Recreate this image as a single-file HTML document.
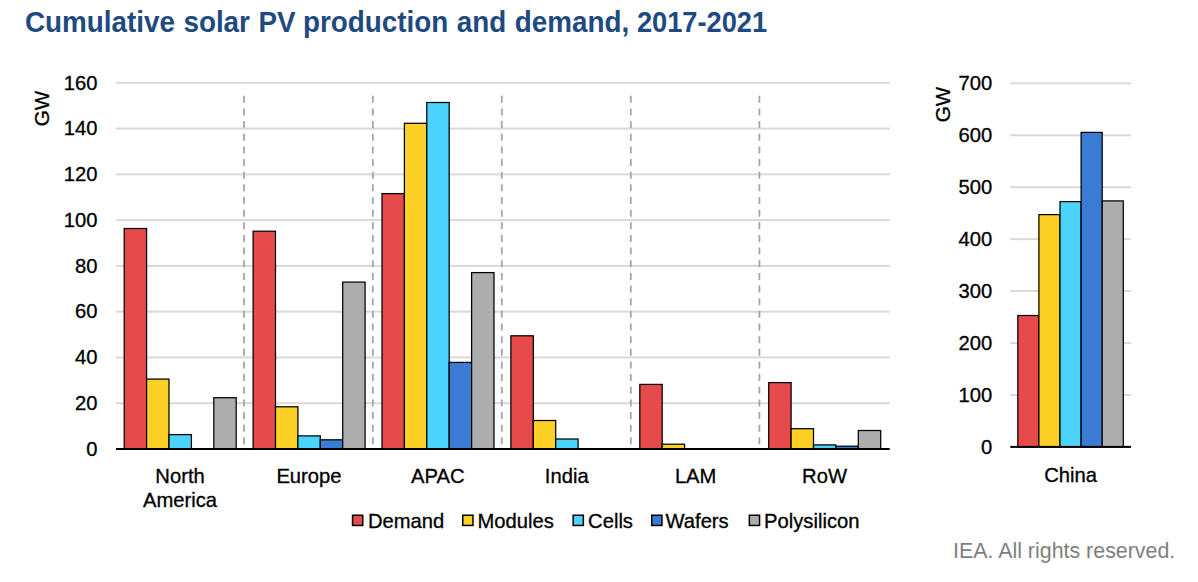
<!DOCTYPE html>
<html><head><meta charset="utf-8"><title>Cumulative solar PV production and demand, 2017-2021</title>
<style>
html,body{margin:0;padding:0;background:#fff;width:1198px;height:582px;overflow:hidden}
svg{display:block}
text{font-family:"Liberation Sans",Arial,sans-serif}
.t{font-size:29.4px;font-weight:bold;fill:#1F4A80}
.l{font-size:20.2px;fill:#000;stroke:#000;stroke-width:0.3px}
.c{font-size:21.4px;fill:#7F7F7F}
</style></head><body>
<svg width="1198" height="582" viewBox="0 0 1198 582">
<g class="t"><text transform="translate(25.0 31.6) scale(0.947 1)">Cumulative</text> <text transform="translate(183.4 31.6) scale(0.947 1)">solar</text> <text transform="translate(258.5 31.6) scale(0.947 1)">PV</text> <text transform="translate(303.0 31.6) scale(0.947 1)">production</text> <text transform="translate(456.7 31.6) scale(0.947 1)">and</text> <text transform="translate(514.8 31.6) scale(0.947 1)">demand,</text> <text transform="translate(636.9 31.6) scale(0.927 1)">2017-2021</text></g>
<rect x="116" y="402.23" width="773.7" height="2" fill="#D9D9D9"/>
<rect x="116" y="356.45" width="773.7" height="2" fill="#D9D9D9"/>
<rect x="116" y="310.68" width="773.7" height="2" fill="#D9D9D9"/>
<rect x="116" y="264.9" width="773.7" height="2" fill="#D9D9D9"/>
<rect x="116" y="219.13" width="773.7" height="2" fill="#D9D9D9"/>
<rect x="116" y="173.35" width="773.7" height="2" fill="#D9D9D9"/>
<rect x="116" y="127.58" width="773.7" height="2" fill="#D9D9D9"/>
<rect x="116" y="81.8" width="773.7" height="2" fill="#D9D9D9"/>
<text x="97.5" y="455.72" class="l" text-anchor="end">0</text>
<text x="97.5" y="409.94" class="l" text-anchor="end">20</text>
<text x="97.5" y="364.17" class="l" text-anchor="end">40</text>
<text x="97.5" y="318.39" class="l" text-anchor="end">60</text>
<text x="97.5" y="272.62" class="l" text-anchor="end">80</text>
<text x="97.5" y="226.84" class="l" text-anchor="end">100</text>
<text x="97.5" y="181.07" class="l" text-anchor="end">120</text>
<text x="97.5" y="135.29" class="l" text-anchor="end">140</text>
<text x="97.5" y="89.52" class="l" text-anchor="end">160</text>
<line x1="244" y1="95.8" x2="244" y2="444.5" stroke="#A6A6A6" stroke-width="1.8" stroke-dasharray="7 5.65"/>
<line x1="372.85" y1="95.8" x2="372.85" y2="444.5" stroke="#A6A6A6" stroke-width="1.8" stroke-dasharray="7 5.65"/>
<line x1="501.8" y1="95.8" x2="501.8" y2="444.5" stroke="#A6A6A6" stroke-width="1.8" stroke-dasharray="7 5.65"/>
<line x1="630.8" y1="95.8" x2="630.8" y2="444.5" stroke="#A6A6A6" stroke-width="1.8" stroke-dasharray="7 5.65"/>
<line x1="759.4" y1="95.8" x2="759.4" y2="444.5" stroke="#A6A6A6" stroke-width="1.8" stroke-dasharray="7 5.65"/>
<rect x="124.2" y="228.5" width="22.4" height="220.5" fill="#E64A4A" stroke="#000" stroke-width="1.25"/>
<rect x="146.6" y="379.1" width="22.4" height="69.9" fill="#FCD024" stroke="#000" stroke-width="1.25"/>
<rect x="169" y="434.6" width="22.4" height="14.4" fill="#4BD3FC" stroke="#000" stroke-width="1.25"/>
<rect x="213.8" y="397.7" width="22.4" height="51.3" fill="#ADADAD" stroke="#000" stroke-width="1.25"/>
<rect x="253.1" y="231.2" width="22.4" height="217.8" fill="#E64A4A" stroke="#000" stroke-width="1.25"/>
<rect x="275.5" y="406.8" width="22.4" height="42.2" fill="#FCD024" stroke="#000" stroke-width="1.25"/>
<rect x="297.9" y="435.9" width="22.4" height="13.1" fill="#4BD3FC" stroke="#000" stroke-width="1.25"/>
<rect x="320.3" y="439.8" width="22.4" height="9.2" fill="#3C7BD3" stroke="#000" stroke-width="1.25"/>
<rect x="342.7" y="282.1" width="22.4" height="166.9" fill="#ADADAD" stroke="#000" stroke-width="1.25"/>
<rect x="382" y="193.6" width="22.4" height="255.4" fill="#E64A4A" stroke="#000" stroke-width="1.25"/>
<rect x="404.4" y="123.3" width="22.4" height="325.7" fill="#FCD024" stroke="#000" stroke-width="1.25"/>
<rect x="426.8" y="102.5" width="22.4" height="346.5" fill="#4BD3FC" stroke="#000" stroke-width="1.25"/>
<rect x="449.2" y="362.4" width="22.4" height="86.6" fill="#3C7BD3" stroke="#000" stroke-width="1.25"/>
<rect x="471.6" y="272.6" width="22.4" height="176.4" fill="#ADADAD" stroke="#000" stroke-width="1.25"/>
<rect x="510.9" y="335.8" width="22.4" height="113.2" fill="#E64A4A" stroke="#000" stroke-width="1.25"/>
<rect x="533.3" y="420.5" width="22.4" height="28.5" fill="#FCD024" stroke="#000" stroke-width="1.25"/>
<rect x="555.7" y="439" width="22.4" height="10" fill="#4BD3FC" stroke="#000" stroke-width="1.25"/>
<rect x="639.8" y="384.4" width="22.4" height="64.6" fill="#E64A4A" stroke="#000" stroke-width="1.25"/>
<rect x="662.2" y="444.2" width="22.4" height="4.8" fill="#FCD024" stroke="#000" stroke-width="1.25"/>
<rect x="768.7" y="382.6" width="22.4" height="66.4" fill="#E64A4A" stroke="#000" stroke-width="1.25"/>
<rect x="791.1" y="428.7" width="22.4" height="20.3" fill="#FCD024" stroke="#000" stroke-width="1.25"/>
<rect x="813.5" y="444.9" width="22.4" height="4.1" fill="#4BD3FC" stroke="#000" stroke-width="1.25"/>
<rect x="835.9" y="446.2" width="22.4" height="2.8" fill="#3C7BD3" stroke="#000" stroke-width="1.25"/>
<rect x="858.3" y="430.5" width="22.4" height="18.5" fill="#ADADAD" stroke="#000" stroke-width="1.25"/>
<rect x="116" y="448" width="773.7" height="2" fill="#000"/>
<text x="180.05" y="483.1" class="l" text-anchor="middle">North</text>
<text x="180.05" y="506.7" class="l" text-anchor="middle">America</text>
<text x="308.95" y="483.1" class="l" text-anchor="middle">Europe</text>
<text x="437.85" y="483.1" class="l" text-anchor="middle">APAC</text>
<text x="566.75" y="483.1" class="l" text-anchor="middle">India</text>
<text x="695.65" y="483.1" class="l" text-anchor="middle">LAM</text>
<text x="824.55" y="483.1" class="l" text-anchor="middle">RoW</text>
<text transform="translate(48.7 108.5) rotate(-90)" class="l" text-anchor="middle" style="font-size:20.6px">GW</text>
<rect x="1010.3" y="393.96" width="120.7" height="2" fill="#D9D9D9"/>
<rect x="1010.3" y="342.01" width="120.7" height="2" fill="#D9D9D9"/>
<rect x="1010.3" y="290.07" width="120.7" height="2" fill="#D9D9D9"/>
<rect x="1010.3" y="238.13" width="120.7" height="2" fill="#D9D9D9"/>
<rect x="1010.3" y="186.19" width="120.7" height="2" fill="#D9D9D9"/>
<rect x="1010.3" y="134.24" width="120.7" height="2" fill="#D9D9D9"/>
<rect x="1010.3" y="82.3" width="120.7" height="2" fill="#D9D9D9"/>
<text x="992.2" y="453.62" class="l" text-anchor="end">0</text>
<text x="992.2" y="401.68" class="l" text-anchor="end">100</text>
<text x="992.2" y="349.73" class="l" text-anchor="end">200</text>
<text x="992.2" y="297.79" class="l" text-anchor="end">300</text>
<text x="992.2" y="245.85" class="l" text-anchor="end">400</text>
<text x="992.2" y="193.9" class="l" text-anchor="end">500</text>
<text x="992.2" y="141.96" class="l" text-anchor="end">600</text>
<text x="992.2" y="90.02" class="l" text-anchor="end">700</text>
<rect x="1017.8" y="315.5" width="21.1" height="131.4" fill="#E64A4A" stroke="#000" stroke-width="1.25"/>
<rect x="1038.9" y="214.6" width="21.1" height="232.3" fill="#FCD024" stroke="#000" stroke-width="1.25"/>
<rect x="1060" y="201.6" width="21.1" height="245.3" fill="#4BD3FC" stroke="#000" stroke-width="1.25"/>
<rect x="1081.1" y="132.4" width="21.1" height="314.5" fill="#3C7BD3" stroke="#000" stroke-width="1.25"/>
<rect x="1102.2" y="200.9" width="21.1" height="246" fill="#ADADAD" stroke="#000" stroke-width="1.25"/>
<rect x="1010.3" y="445.9" width="120.7" height="2" fill="#000"/>
<text x="1070.65" y="481.8" class="l" text-anchor="middle">China</text>
<text transform="translate(950.3 104.6) rotate(-90)" class="l" text-anchor="middle" style="font-size:20.6px">GW</text>
<rect x="352.55" y="515.25" width="10.2" height="10.2" fill="#E64A4A" stroke="#000" stroke-width="1.5"/>
<text x="368" y="527.6" class="l">Demand</text>
<rect x="462.75" y="515.25" width="10.2" height="10.2" fill="#FCD024" stroke="#000" stroke-width="1.5"/>
<text x="477.5" y="527.6" class="l">Modules</text>
<rect x="573.15" y="515.25" width="10.2" height="10.2" fill="#4BD3FC" stroke="#000" stroke-width="1.5"/>
<text x="588.1" y="527.6" class="l">Cells</text>
<rect x="651.75" y="515.25" width="10.2" height="10.2" fill="#3C7BD3" stroke="#000" stroke-width="1.5"/>
<text x="665.5" y="527.6" class="l">Wafers</text>
<rect x="749.35" y="515.25" width="10.2" height="10.2" fill="#ADADAD" stroke="#000" stroke-width="1.5"/>
<text x="764.1" y="527.6" class="l">Polysilicon</text>
<text x="1175.3" y="558.4" class="c" text-anchor="end">IEA. All rights reserved.</text>
</svg>
</body></html>
